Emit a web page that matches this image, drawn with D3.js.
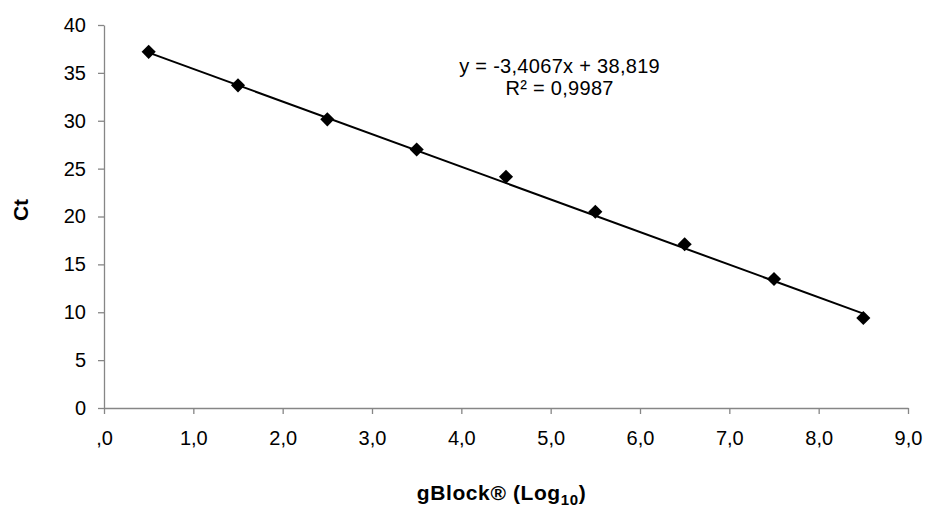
<!DOCTYPE html>
<html>
<head>
<meta charset="utf-8">
<script src="https://cdn.jsdelivr.net/npm/d3@7"></script>
<style>
  body { margin: 0; background: #fff; }
  text { font-family: "Liberation Sans", Arial, sans-serif; }
</style>
</head>
<body>
<div id="chart"></div>
<script>
const logValues = [0.5, 1.5, 2.5, 3.5, 4.5, 5.5, 6.5, 7.5, 8.5];
const ctValues = [37.2, 33.7, 30.15, 27.0, 24.15, 20.5, 17.1, 13.47, 9.4];
const xTicks = [0, 1, 2, 3, 4, 5, 6, 7, 8, 9];
const yTicks = [0, 5, 10, 15, 20, 25, 30, 35, 40];
const slope = -3.4067;
const intercept = 38.819;
const equationLines = ["y = -3,4067x + 38,819", "R² = 0,9987"];

const width = 927, height = 512;
const margin = { top: 25, right: 19, bottom: 104, left: 104 };
const plotWidth = width - margin.left - margin.right;
const plotHeight = height - margin.top - margin.bottom;

const svg = d3.select("#chart")
    .append("svg")
    .attr("width", width)
    .attr("height", height);

const g = svg.append("g")
    .attr("transform", `translate(${margin.left},${margin.top})`);

const xScale = d3.scaleLinear().domain([0, 9]).range([0, plotWidth]);
const yScale = d3.scaleLinear().domain([0, 40]).range([plotHeight, 0]);

const fmtX = d => d === 0 ? ",0" : d3.format(".1f")(d).replace(".", ",");

// x axis
const xAxis = g.append("g")
    .attr("transform", `translate(0,${plotHeight})`)
    .call(d3.axisBottom(xScale).tickValues(xTicks).tickFormat(fmtX).tickSize(6).tickSizeOuter(0));

// y axis
const yAxis = g.append("g")
    .call(d3.axisLeft(yScale).tickValues(yTicks).tickSize(6).tickSizeOuter(0));

[xAxis, yAxis].forEach(ax => {
    ax.select(".domain").attr("stroke", "#868686").attr("stroke-width", 1.3);
    ax.selectAll(".tick line").attr("stroke", "#868686").attr("stroke-width", 1.3);
    ax.selectAll(".tick text")
        .attr("fill", "#000")
        .style("font-size", "20px")
        .style("font-family", "'Liberation Sans', Arial, sans-serif");
});
xAxis.selectAll(".tick text").attr("y", 9).attr("dy", "1.38em");
yAxis.selectAll(".tick text").attr("x", -18);

// trendline
const x0 = d3.min(logValues), x1 = d3.max(logValues);
g.append("line")
    .attr("x1", xScale(x0))
    .attr("y1", yScale(slope * x0 + intercept))
    .attr("x2", xScale(x1))
    .attr("y2", yScale(slope * x1 + intercept))
    .attr("stroke", "#000")
    .attr("stroke-width", 2);

// markers
const data = logValues.map((x, i) => ({ x: x, y: ctValues[i] }));
g.selectAll(".marker")
    .data(data)
    .enter().append("path")
    .attr("class", "marker")
    .attr("d", d3.symbol().type(d3.symbolSquare).size(100))
    .attr("transform", d => `translate(${xScale(d.x)},${yScale(d.y)}) rotate(45)`)
    .attr("fill", "#000");

// equation
const eqX = xScale(5.1);
const eq = g.append("text")
    .attr("y", 48)
    .attr("text-anchor", "middle")
    .style("font-size", "20px")
    .style("letter-spacing", "0.3px");
eq.selectAll("tspan")
    .data(equationLines)
    .enter().append("tspan")
    .attr("x", eqX)
    .attr("dy", (d, i) => i === 0 ? 0 : 22)
    .text(d => d);

// axis titles
svg.append("text")
    .attr("transform", `translate(28,210) rotate(-90)`)
    .attr("text-anchor", "middle")
    .style("font-size", "21px")
    .style("font-weight", "bold")
    .text("Ct");

const xTitle = svg.append("text")
    .attr("x", margin.left + xScale(4.45))
    .attr("y", 500)
    .attr("text-anchor", "middle")
    .style("font-size", "21px")
    .style("font-weight", "bold")
    .style("letter-spacing", "0.6px");
xTitle.append("tspan").text("gBlock® (Log");
xTitle.append("tspan").attr("dy", 5).style("font-size", "15px").text("10");
xTitle.append("tspan").attr("dy", -5).text(")");
</script>
</body>
</html>
